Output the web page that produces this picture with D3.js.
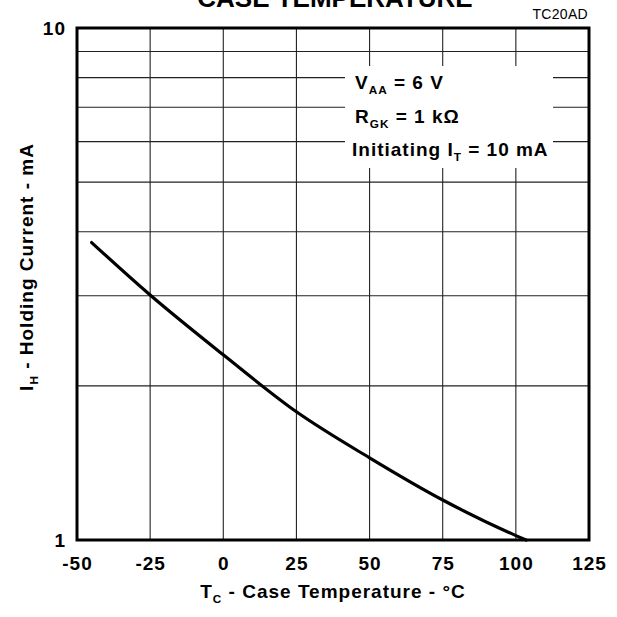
<!DOCTYPE html>
<html>
<head>
<meta charset="utf-8">
<script src="https://cdn.jsdelivr.net/npm/d3@7"></script>
<style>
  body { margin: 0; background: #fff; }
  svg { display: block; font-family: "Liberation Sans", Arial, Helvetica, sans-serif; }
  .tick text { font-weight: bold; font-size: 19px; letter-spacing: 1px; fill: #000; }
</style>
</head>
<body>
<svg width="617" height="617"></svg>
<script>
// curve: case temperature (°C) vs holding current (mA)
const tempC = [-45, -25, 0, 25, 50, 75, 100, 103.5];
const holdingMA = [3.81, 3.01, 2.30, 1.78, 1.447, 1.197, 1.02, 1.0];

const xTicks = [-50, -25, 0, 25, 50, 75, 100, 125];
const yGrid = [2, 3, 4, 5, 6, 7, 8, 9];
const yLabels = [1, 10];

const svg = d3.select("svg");
const plotL = 77, plotR = 589, plotT = 28, plotB = 540;

const x = d3.scaleLinear().domain([-50, 125]).range([plotL, plotR]);
const y = d3.scaleLog().domain([1, 10]).range([plotB, plotT]);

// grid
const grid = svg.append("g").attr("stroke", "#222").attr("stroke-width", 1.1);
grid.selectAll("line.v")
    .data(xTicks.slice(1, -1))
    .enter().append("line")
    .attr("x1", d => x(d)).attr("x2", d => x(d))
    .attr("y1", plotT).attr("y2", plotB);
grid.selectAll("line.h")
    .data(yGrid)
    .enter().append("line")
    .attr("x1", plotL).attr("x2", plotR)
    .attr("y1", d => y(d)).attr("y2", d => y(d));

// white box behind the conditions
svg.append("rect")
    .attr("x", 345).attr("y", 66)
    .attr("width", 208).attr("height", 102)
    .attr("fill", "#fff");

// curve
const line = d3.line()
    .x((d, i) => x(tempC[i]))
    .y(d => y(d))
    .curve(d3.curveMonotoneX);

svg.append("path")
    .datum(holdingMA)
    .attr("d", line)
    .attr("fill", "none")
    .attr("stroke", "#000")
    .attr("stroke-width", 3.2)
    .attr("stroke-linecap", "round");

// frame
svg.append("rect")
    .attr("x", plotL).attr("y", plotT)
    .attr("width", plotR - plotL).attr("height", plotB - plotT)
    .attr("fill", "none")
    .attr("stroke", "#000")
    .attr("stroke-width", 3);

// axes (labels only), hyphen minus like the original
const xAxis = svg.append("g")
    .attr("transform", "translate(0," + plotB + ")")
    .call(d3.axisBottom(x).tickValues(xTicks).tickSize(0).tickPadding(17).tickFormat(d => String(d)));
xAxis.select(".domain").remove();

const yAxis = svg.append("g")
    .attr("transform", "translate(" + (plotL - 1) + ",0)")
    .call(d3.axisLeft(y).tickValues(yLabels).tickSize(0).tickPadding(10).tickFormat(d => String(d)));
yAxis.select(".domain").remove();

// text with subscripts
function subText(g, parts, size) {
    const t = g.append("text")
        .attr("font-weight", "bold")
        .attr("font-size", size)
        .attr("letter-spacing", 1);
    let shifted = false;
    parts.forEach(p => {
        if (p.sub) {
            t.append("tspan").attr("font-size", size * 0.62).attr("dy", 5).text(p.sub);
            shifted = true;
        } else {
            const s = t.append("tspan").text(p.t);
            if (shifted) { s.attr("dy", -5); shifted = false; }
        }
    });
    return t;
}

subText(svg, [{t: "T"}, {sub: "C"}, {t: " - Case Temperature - °C"}], 19)
    .attr("x", 333).attr("y", 598).attr("text-anchor", "middle");

subText(svg, [{t: "I"}, {sub: "H"}, {t: " - Holding Current - mA"}], 19)
    .attr("text-anchor", "middle")
    .attr("transform", "translate(33,267) rotate(-90)");

// conditions
subText(svg, [{t: "V"}, {sub: "AA"}, {t: " = 6 V"}], 19).attr("x", 355).attr("y", 89);
subText(svg, [{t: "R"}, {sub: "GK"}, {t: " = 1 kΩ"}], 19).attr("x", 355).attr("y", 123);
subText(svg, [{t: "Initiating I"}, {sub: "T"}, {t: " = 10 mA"}], 19).attr("x", 352).attr("y", 156);

// title (cut off at the top) and figure code
svg.append("text")
    .attr("x", 335).attr("y", 7)
    .attr("text-anchor", "middle")
    .attr("font-weight", "bold").attr("font-size", 26)
    .text("CASE TEMPERATURE");

svg.append("text")
    .attr("x", 588).attr("y", 19)
    .attr("text-anchor", "end")
    .attr("font-size", 14)
    .attr("letter-spacing", 0.3)
    .text("TC20AD");
</script>
</body>
</html>
